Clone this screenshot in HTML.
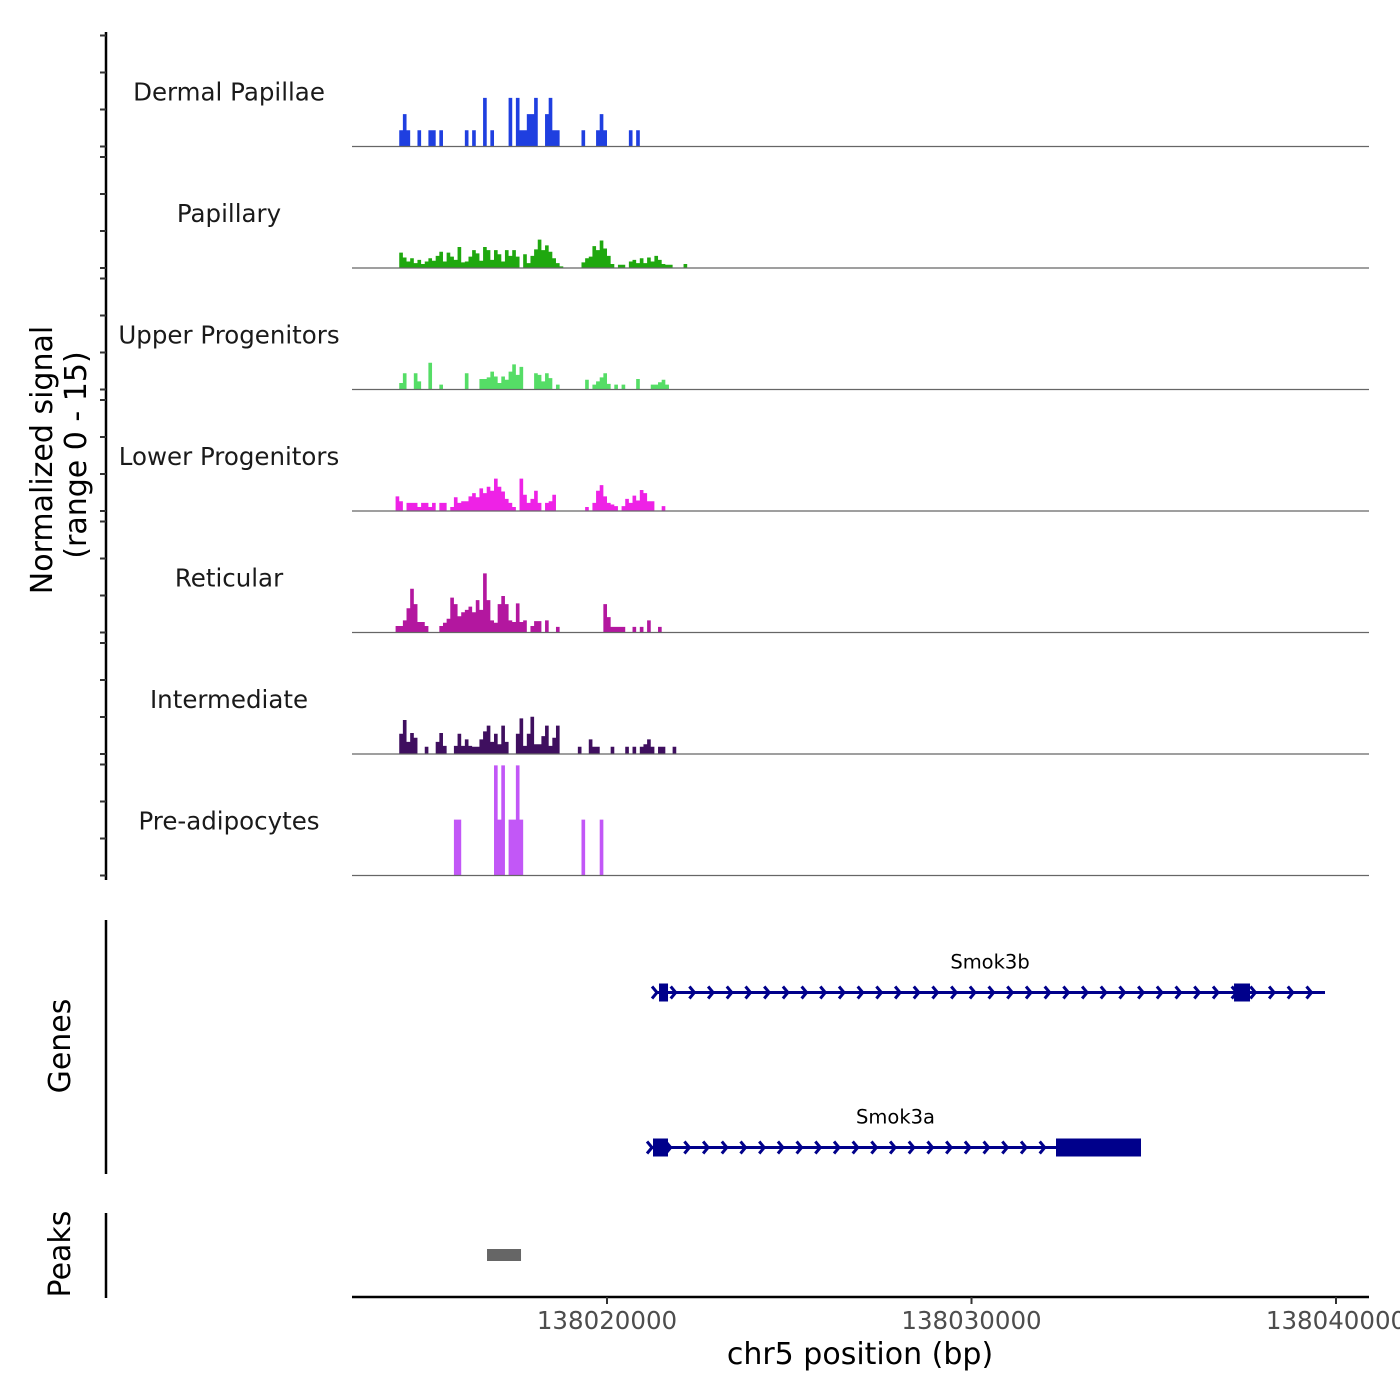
<!DOCTYPE html>
<html><head><meta charset="utf-8"><style>
html,body{margin:0;padding:0;background:#fff;}
svg{display:block;font-family:"DejaVu Sans","Liberation Sans",sans-serif;}
</style></head><body>
<svg id="chart" width="1400" height="1400" viewBox="0 0 1400 1400" xmlns="http://www.w3.org/2000/svg">
<g id="tracks"></g>
<g id="genes"></g>
<g id="peaks"></g>
<line x1="106" y1="32" x2="106" y2="880" stroke="#000" stroke-width="2.5"/>
<g id="yticks"></g>
<text transform="translate(52,460) rotate(-90)" text-anchor="middle" font-size="30">Normalized signal</text>
<text transform="translate(86,455) rotate(-90)" text-anchor="middle" font-size="30">(range 0 - 15)</text>
<line x1="106" y1="920" x2="106" y2="1174" stroke="#000" stroke-width="2.5"/>
<text transform="translate(70,1046) rotate(-90)" text-anchor="middle" font-size="30">Genes</text>
<line x1="106" y1="1213" x2="106" y2="1298" stroke="#000" stroke-width="2.5"/>
<text transform="translate(70,1254) rotate(-90)" text-anchor="middle" font-size="30">Peaks</text>
<line x1="352" y1="1297" x2="1369" y2="1297" stroke="#000" stroke-width="2.5"/>
<g id="xticks"></g>
<text x="860" y="1364" text-anchor="middle" font-size="30">chr5 position (bp)</text>
</svg>
<script>
const NS="http://www.w3.org/2000/svg";
const trackNames=["Dermal Papillae","Papillary","Upper Progenitors","Lower Progenitors","Reticular","Intermediate","Pre-adipocytes"];
const trackColors=["#1f3fe0","#1fa80f","#55dd66","#ee22e6","#b3179f","#3f0f5f","#c257f7"];
const binStart=138014200;
const binSize=100;
const dermalPapillae={1:2,2:4,3:2,6:2,9:2,10:2,12:2,19:2,21:2,24:6,26:2,31:6,33:6,34:2,35:2,36:4,37:4,38:6,41:4,42:6,43:2,44:2,51:2,55:2,56:4,57:2,64:2,66:2};
const papillaryVals=[0,1.9,1.3,0.8,1.2,0.6,1,0.5,0.8,1.2,0.9,1.5,2,0.8,1.9,1.4,1,2.6,0.7,0.8,1.4,2.2,1.8,0.9,2.6,2.2,1,2.2,1.7,0.8,2.2,1.5,2.2,1.4,0,1.7,0.6,1.5,2.3,3.5,2.2,2.8,2,1.2,0.6,0.2,0,0,0,0,0,0.7,1.2,1.4,2.7,2.2,3.4,2.4,1.5,0.5,0,0.4,0.4,0,0.8,1,0.6,1.2,0.6,1.3,0.8,1.5,1,0.5,0.4,0.4,0,0,0,0.5];
const upperProgenitors={1:0.8,2:2,5:2,6:1,9:3.3,12:0.6,19:2,23:1.3,24:1.3,25:1.5,26:2.2,27:1.6,28:0.8,29:1.6,30:1.2,31:2.2,32:3.1,33:1.8,34:2.8,38:2,39:1.8,40:1,41:2,42:1.4,44:0.6,52:1.2,54:0.6,55:1,56:1.5,57:2,58:0.7,60:0.6,62:0.6,66:1.3,70:0.6,71:0.6,72:0.9,73:1.2,74:0.6};
const lowerProgenitors={0:1.8,1:1.2,3:1,4:1,5:1,6:0.5,7:1,8:1,9:0.5,10:1,12:1,13:1,15:0.5,16:1.7,17:1,18:1.2,19:1.2,20:1.8,21:2.2,22:1.7,23:2.8,24:2.2,25:3,26:2.5,27:4,28:3,29:2.4,30:1.5,31:1,32:0.5,34:4,35:2,36:1,37:1.5,38:2.5,39:1,41:1,42:1.2,43:2,52:0.5,54:1,55:2.5,56:3.2,57:1.8,58:1,59:0.8,60:0.6,62:0.6,63:1.5,64:1,65:1.9,66:1.3,67:2.6,68:2.2,69:1.2,70:1.2,73:0.6};
const reticular={0:0.8,1:0.8,2:1.5,3:3,4:5.4,5:3.5,6:1.3,7:1.3,8:0.8,12:0.8,13:1.2,14:1.7,15:4.3,16:3.5,17:2,18:2.5,19:2.8,20:3.2,21:2.5,22:4,23:2.8,24:7.3,25:4,26:1.5,27:1.2,28:3.5,29:4.5,30:3.5,31:1.5,32:1.3,33:3.6,34:1.3,35:1.5,37:0.8,38:1.4,39:1.4,41:1.5,44:0.7,57:3.5,58:1.9,59:0.7,60:0.7,61:0.7,62:0.7,65:0.7,67:0.7,69:1.5,72:0.7};
const intermediate={1:2.5,2:4.2,3:1.5,4:2.6,5:2,8:0.9,11:1.5,12:2.6,13:1,16:1,17:2.5,18:1,19:1.8,20:1,21:0.9,22:0.9,23:1.8,24:2.8,25:3.5,26:1.5,27:2.5,28:1.2,29:3.5,30:1.5,33:2.5,34:4.4,35:1,36:2.5,37:4.6,38:1.2,39:1.2,40:2.2,41:3.5,42:1,43:2,44:3.5,50:0.9,53:1.8,54:0.9,55:0.9,59:0.9,63:0.9,65:0.9,67:0.9,68:1.2,69:1.8,70:0.9,72:0.9,73:0.9,76:0.9};
const preAdipocytes={16:6.9,17:6.9,27:13.6,28:6.9,29:13.6,31:6.9,32:6.9,33:13.6,34:6.9,51:6.9,56:6.9};
const trackData=[dermalPapillae,papillaryVals,upperProgenitors,lowerProgenitors,reticular,intermediate,preAdipocytes];
const xTicks=[138020000,138030000,138040000];
const geneNames=["Smok3b","Smok3a"];
const geneStarts=[138021317,138021180];
const geneEnds=[138039698,138034650];
const geneExons=[[[138021427,138021674],[138037202,138037641]],[[138021262,138021673],[138032318,138034650]]];
const peakStarts=[138016708];
const peakEnds=[138017641];

const X0=352,X1=1369,BP0=138013004,BP1=138040905;
function xs(bp){return X0+(bp-BP0)/(BP1-BP0)*(X1-X0);}
const baselines=[146.5,268,389.5,511,632.5,754,875.5];
const unitPx=8.1;
function ys(t,v){return baselines[t]-v*unitPx;}

const tg=document.getElementById('tracks');
const yt=document.getElementById('yticks');
for(let t=0;t<7;t++){
  const d=trackData[t];
  const vals=[];
  for(let i=0;i<82;i++){vals.push(d[i]||0);}
  let p="M"+xs(binStart)+","+baselines[t];
  for(let i=0;i<vals.length;i++){
    const a=xs(binStart+i*binSize), b=xs(binStart+(i+1)*binSize);
    p+=" L"+a+","+ys(t,vals[i])+" L"+b+","+ys(t,vals[i]);
  }
  p+=" L"+xs(binStart+vals.length*binSize)+","+baselines[t]+" Z";
  const path=document.createElementNS(NS,'path');
  path.setAttribute('d',p);path.setAttribute('fill',trackColors[t]);
  
  
  tg.appendChild(path);
  const bl=document.createElementNS(NS,'line');
  bl.setAttribute('x1',X0);bl.setAttribute('x2',X1);bl.setAttribute('y1',baselines[t]);bl.setAttribute('y2',baselines[t]);
  bl.setAttribute('stroke','#666');bl.setAttribute('stroke-width','1.2');
  
  
  tg.appendChild(bl);
  const lb=document.createElementNS(NS,'text');
  lb.setAttribute('x',229);lb.setAttribute('y',baselines[t]-46);lb.setAttribute('text-anchor','middle');lb.setAttribute('font-size','24.5');lb.setAttribute('fill','#1a1a1a');
  lb.textContent=trackNames[t];
  
  
  tg.appendChild(lb);
  for(let k=0;k<4;k++){
    const tk=document.createElementNS(NS,'line');
    const y=baselines[t]-k*37;
    tk.setAttribute('x1',100);tk.setAttribute('x2',106);tk.setAttribute('y1',y);tk.setAttribute('y2',y);
    tk.setAttribute('stroke','#333');tk.setAttribute('stroke-width','2');
    
    
    yt.appendChild(tk);
  }
}
const gg=document.getElementById('genes');
const geneY=[992.5,1147.5];
const col="#00008b";
for(let g=0;g<2;g++){
  const y=geneY[g], a=xs(geneStarts[g]), b=xs(geneEnds[g]);
  const ln=document.createElementNS(NS,'line');
  ln.setAttribute('x1',a);ln.setAttribute('x2',b);ln.setAttribute('y1',y);ln.setAttribute('y2',y);
  ln.setAttribute('stroke',col);ln.setAttribute('stroke-width','3');
  
  
  gg.appendChild(ln);
  let cp="";
  for(let x=a+2;x<=b+0.5;x+=18.7){cp+="M"+(x-5)+","+(y-6)+" L"+x+","+y+" L"+(x-5)+","+(y+6)+" ";}
  const ch=document.createElementNS(NS,'path');
  ch.setAttribute('d',cp);ch.setAttribute('stroke',col);ch.setAttribute('stroke-width','3');ch.setAttribute('fill','none');
  
  
  gg.appendChild(ch);
  geneExons[g].forEach(e=>{
    const r=document.createElementNS(NS,'rect');
    r.setAttribute('x',xs(e[0]));r.setAttribute('width',xs(e[1])-xs(e[0]));r.setAttribute('y',y-9);r.setAttribute('height',18);r.setAttribute('fill',col);
    
    
    gg.appendChild(r);
  });
  const tx=document.createElementNS(NS,'text');
  tx.setAttribute('x',(a+b)/2);tx.setAttribute('y',y-24);tx.setAttribute('text-anchor','middle');tx.setAttribute('font-size','19.5');
  tx.textContent=geneNames[g];
  
  
  gg.appendChild(tx);
}
const pg=document.getElementById('peaks');
for(let i=0;i<peakStarts.length;i++){
  const r=document.createElementNS(NS,'rect');
  r.setAttribute('x',xs(peakStarts[i]));r.setAttribute('width',xs(peakEnds[i])-xs(peakStarts[i]));r.setAttribute('y',1249);r.setAttribute('height',12);r.setAttribute('fill','#666');
  
  
  pg.appendChild(r);
}
const xg=document.getElementById('xticks');
xTicks.forEach(v=>{
  const x=xs(v);
  const tk=document.createElementNS(NS,'line');
  tk.setAttribute('x1',x);tk.setAttribute('x2',x);tk.setAttribute('y1',1297);tk.setAttribute('y2',1304);tk.setAttribute('stroke','#333');tk.setAttribute('stroke-width','2');
  
  
  xg.appendChild(tk);
  const t=document.createElementNS(NS,'text');
  t.setAttribute('x',x);t.setAttribute('y',1329);t.setAttribute('text-anchor','middle');t.setAttribute('font-size','24.5');t.setAttribute('fill','#4d4d4d');
  t.textContent=v;
  
  
  xg.appendChild(t);
});
</script>
</body></html>
